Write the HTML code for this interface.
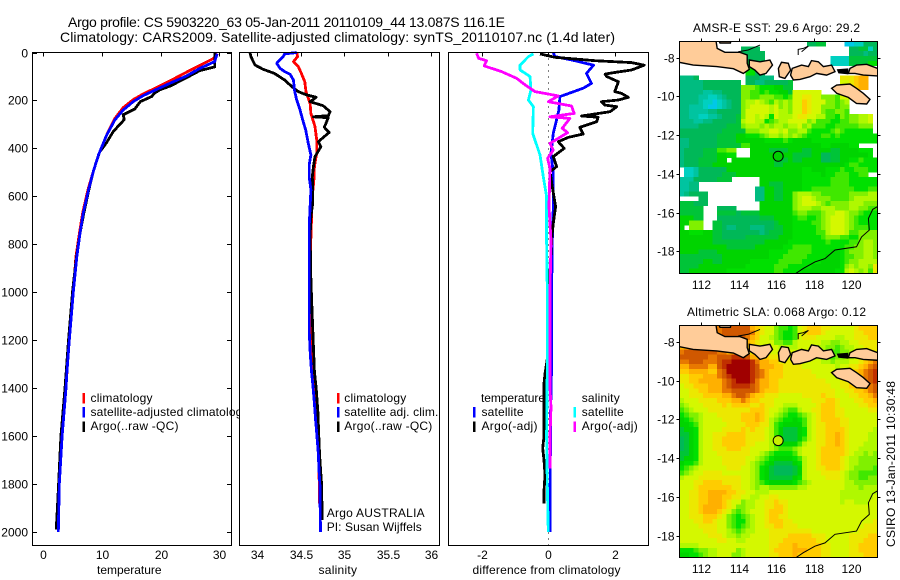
<!DOCTYPE html>
<html>
<head>
<meta charset="utf-8">
<title>Argo profile chart</title>
<style>
html,body{margin:0;padding:0;background:#fff;}
svg{display:block;font-family:"Liberation Sans",sans-serif;font-size:12px;fill:#000;}
</style>
</head>
<body>
<svg id="chart" xmlns="http://www.w3.org/2000/svg" width="900" height="580" viewBox="0 0 900 580">
<defs>
<clipPath id="clip-sst"><rect x="679.5" y="41.5" width="198" height="232"/></clipPath>
<clipPath id="clip-sla"><rect x="679.5" y="325.5" width="198" height="232"/></clipPath>
</defs>
<text x="68" y="27" font-size="14" textLength="437">Argo profile: CS 5903220_63 05-Jan-2011 20110109_44 13.087S 116.1E</text>
<text x="60" y="42" font-size="14" textLength="555">Climatology: CARS2009. Satellite-adjusted climatology: synTS_20110107.nc (1.4d later)</text>
<g id="layer-plots"></g>
<g id="layer-maps"></g>
<text x="693" y="32" textLength="167">AMSR-E SST: 29.6 Argo: 29.2</text>
<text x="687" y="316" textLength="179">Altimetric SLA: 0.068 Argo: 0.12</text>
<text transform="translate(895,547) rotate(-90)" textLength="166">CSIRO 13-Jan-2011 10:30:48</text>
</svg>
<script>
// ---------- profile data (depth in dbar) ----------
const tempTicks = [0, 10, 20, 30];
const salTicks = [34, 34.5, 35, 35.5, 36];
const salTickLabels = ["34", "34.5", "35", "35.5", "36"];
const diffTicks = [-2, 0, 2];
const depthTicks = [0, 200, 400, 600, 800, 1000, 1200, 1400, 1600, 1800, 2000];

const tempClimDepth = [5,25,53,82,118,146,173,197,230,275,344,427,498,573,670,754,852,990,1200,1400,1600,1800,1960];
const tempClimValue = [29.7,29,26.7,24.4,21.6,19.3,17,15.3,13.6,12.2,10.8,9.4,8.5,7.6,6.7,6.15,5.55,5.15,4.4,3.85,3.15,2.65,2.5];
const tempArgoDepth = [3,60,75,105,140,155,170,183,205,235,260,280,330,375,415,450,498,573,670,754,852,990,1200,1400,1600,1800,1900,1990];
const tempArgoValue = [29.2,29.2,26.7,24.4,21.6,19.9,18.9,18.5,16.5,15.6,13.6,13.8,11.9,10.8,9.6,9.1,8.5,7.75,6.9,6.25,5.65,5.0,4.3,3.7,3.0,2.6,2.4,2.2];
const tempSatDepth = [5,38,66,98,128,154,180,205,240,281,344,427,498,573,670,754,852,990,1200,1340,1400,1600,1800,2000];
const tempSatValue = [29.6,29.2,26.7,24.4,21.6,19.3,17,15.3,13.6,12.2,10.8,9.4,8.5,7.7,6.8,6.25,5.7,5.15,4.43,4.0,3.87,3.2,2.73,2.56];

const salClimDepth = [0,17,38,59,87,122,163,212,254,309,365,420,476,525,601,768,1000,1300,1500,1700,1880];
const salClimValue = [34.456,34.467,34.42,34.475,34.51,34.55,34.563,34.61,34.62,34.667,34.686,34.686,34.66,34.655,34.636,34.62,34.605,34.63,34.67,34.71,34.72];
const salArgoDepth = [0,17,52,70,87,115,142,163,177,187,205,222,247,263,268,272,312,333,372,393,434,476,518,573,629,685,768,950,1150,1330,1400,1500,1600,1680,1790,1950];
const salArgoValue = [33.92,33.93,33.977,34.07,34.2,34.32,34.4,34.475,34.57,34.68,34.61,34.76,34.84,34.82,34.65,34.82,34.774,34.83,34.705,34.735,34.667,34.648,34.636,34.64,34.64,34.62,34.61,34.62,34.64,34.66,34.68,34.7,34.71,34.72,34.74,34.75];
const salSatDepth = [0,6,17,45,66,80,91,115,156,198,233,281,323,379,427,469,518,573,643,726,950,1160,1260,1324,1394,1463,1533,1602,1672,1741,1811,1880,2000];
const salSatValue = [34.456,34.32,34.3,34.226,34.264,34.32,34.38,34.42,34.43,34.456,34.49,34.525,34.56,34.59,34.62,34.6,34.6,34.62,34.61,34.6,34.6,34.6,34.613,34.625,34.644,34.66,34.674,34.69,34.705,34.713,34.724,34.725,34.73];

const diffTempSatDepth = [0,17,31,53,87,129,149,184,240,337,420,504,643,782,1000,1300,1500,1730,1870,1960,2000];
const diffTempSatValue = [0.15,0.2,0.7,1.36,1.15,1.3,1.05,0.35,0.32,0.15,0.08,0.15,0.15,0.12,0.1,0.1,0.07,0.06,0.05,0.06,0.05];
const diffTempArgoDepth = [6,20,34,42,53,73,81,90,100,122,163,170,187,198,205,219,226,247,265,270,288,312,340,354,372,400,434,476,497,560,643,712,782,1000,1250,1340,1380,1500,1600,1650,1700,1760,1830,1880];
const diffTempArgoValue = [-0.25,0.2,1.41,2.51,2.89,2.51,2.11,1.71,1.76,2.11,2.0,2.2,2.41,2.11,1.6,1.7,2.06,1.86,1.0,1.5,1.46,0.95,1.05,0.6,0.3,0.48,0.15,0.25,0.05,0.12,0.22,0.15,0.1,0.02,0.0,-0.1,-0.13,-0.13,-0.13,-0.17,-0.13,-0.1,-0.13,-0.13];
const diffSalSatDepth = [6,17,52,73,100,156,198,226,337,427,518,601,782,1000,1300,1600,1800,2000];
const diffSalSatValue = [-0.45,-0.6,-0.85,-0.85,-0.55,-0.52,-0.6,-0.45,-0.47,-0.25,-0.15,-0.05,-0.05,-0.03,-0.03,-0.05,-0.03,0];
const diffSalArgoDepth = [3,24,34,56,80,108,135,163,181,205,223,254,268,275,316,334,379,407,441,483,643,782,1000,1200,1400,1480,1600,1735];
const diffSalArgoValue = [-2.16,-2.1,-1.86,-1.93,-1.4,-0.95,-0.7,-0.4,0.3,0,0.7,0.78,0.05,0.65,0.42,0.58,0.05,0.15,-0.02,0.05,0.02,0.08,0.05,0.05,0.05,0.08,0.05,0.05];

// ---------- map data ----------
const levelColors = ["#00c8e8","#00d0c0","#00c4a0","#00bc80","#00b858","#00c438","#00d400","#00e000","#40e800","#80f000","#b0f800","#d4f800","#ece800","#ffcc00","#ffb000","#e87800","#d05800","#c03000","#a00000"];
const levelKeys = "0123456789abcdefghi";
const sstRows = [
".......... .......... ....... 4455 .... 0011 444",
".......... ... 4444 .......... ......... 445514",
".......... ... 44444 .......... ........ 444344",
".......... ... 44444 .......... .... 1111 555555",
".......... ... 5544 .......... ..... 1111 555577",
".......... .... 7777 .......... .......... ....",
".......... .... 7744 .......... .......... ....",
"3334 .......... 444333 .......... .... cccdee ..",
"3333344444444 . 443344 4445 .......... bbcdee ..",
"3333344444444 999 87776655 .......... bccdee ..",
"3333322334444 998 87877665 bbbbbb .......... ..",
"3333221123444 998 89998878 bbccbb9998 bb......",
"3333211012344 9aab a98a9a9 bbdcbbb998 9a......",
"3322210012344 9abb bbab9a9 bbdcbb9998 99......",
"3322223344444 9bbb bbabaa9 bbdcbb9889 98......",
"3322112234445 9bba ba7baaa bccbbaa887 9899aab.",
"3332233444445 abba a789aab bbb9a88877 8899aab.",
"3333444444555 9aaa 9a9aa9a ab9a888778 8888999.",
"4444444445555 5999 aabbab9 9aa8777789 8777777.",
"4444444455556 6777 89aa9a9 a987778878 77777777",
"3344444455556 6666 6777787 6666777777 77777777",
"3344444455555 8866 6666666 6666667766 6677....",
"344445558899 ... 66 6655556 6655666655 6666777.",
"344445556677 ... 66 6666666 5555664455 6666667.",
"3444555566 . 6666 66 6665556 5566664455 66778777",
"3444555666 6666666 6665566 6666666666 67887777",
".11 2444444 6666666 6666666 6677666777 87788877",
".11 2444445 5566666 6666666 6677776778 887788..",
"22244444555 ...... 6666666 6677777788 88777777",
"2233 ............. 6655566 6677777788 88777777",
"2233 ............ 33 665566 6677888888 88877788",
"234444 .......... 33 665566 9aaa998888 889999aa",
"....44 .......... 33 665566 9abba99988 889aaaaa",
"555444 ........... 6666666 9abbba9899 99aaa999",
"55555 ... 4444 ..... 6666666 9aaa99aaa9 99aa9988",
"55555 ... 55554 5555 6666666 8998889aab ba998777",
"66655 ... 44444 4444 5556666 7887789abb ba987777",
"66 999 .. 5544444444 4445666 7777889abb ba987777",
"6.999 .. 5543344433 3445566 7777789abb ba988877",
"66777 66 5544444444 3455566 7777788abb ba889999",
"6666666 5544444555 5555666 7777778999 88779999",
"6666666 5555555555 5666667 7777777877 77889aa9",
"6666666 6665555556 6666677 8888777777 78899aa9",
"6666555 5666666666 6677778 8888777766 78999aa9",
"5555555 5566666666 6677788 8887777666 78899aa9",
"5555566 5566666677 7777888 8877776666 7899aaaa",
"5555666 6666666777 7778887 7777666666 79a9aa9c",
"5566666 6667777777 7778877 7766666667 7aba9a8c"
];
const slaRows = [
"ddddddd dfgggggged cbb9887 8bcdddccbb bbbcdddd",
"ddddddd dfggggggfd cbb9877 8bcdddcbbb bbbccddd",
"ddddddd dfgggggfed bba9877 8bcccbbbba abbcccdd",
"ddddddd ddeeeeeedc bbb9988 abbbbbaa99 aabbcccc",
"eeeeeee eeeeeeddcc cbbbaaa abbbbaa998 9aabbccc",
"fgggggg gffeeeddcc ccbbbbb bbbbaa9988 99aabbcc",
"ggggggf fggghhhgee ddccccb bbbbaa9989 9aabbcdd",
"ffgggff fghhiiiihf eeddccc cbbbbbaa9a aabbcdef",
"eeffffe eghiiiiihg eeeddcc ccbbbbbbba bbccdefg",
"ddeeeed dfgiiiiihg fedddcc ccccbbbbbb bccdefgh",
"ccdddee efghiiiihg fedddcc cccccbbbbb ccddefgh",
"ccddeee eefghiiihf eeddccc cccccccbbb ccdeefgh",
"bccddde eefghhhhgf eeddccc ccccccccbb ccddeffg",
"bbccdde eeffgggggf edddccc cccccccccb bccddefg",
"bbcccdd ddeefggfed dcccbbb bbccccdccb bbccddef",
"abbbccc cdddeefedd cccbbbb bbbbcccddc bbbccdde",
"9abbbcc ccdcddddcc dccbbaa abbbbcdddc bbbbccdd",
"89abbbc ccccccccdd dcbba98 8abbccdddc cbbbbbcc",
"7899abb bcccccddde dcba987 789abcdddc cbbbbbbb",
"6789abb bbccccddde dca9877 678abcdddd ccbbbbbb",
"6678abb bbbccccddd cca8766 668abccddd ccbbbbbb",
"5667abb bbccccdcdc cba8655 567abccddd dcbbbbba",
"5567abb cccddddccc cba8655 567abccdde dcbbbbaa",
"4567abb ccdddddccc cba8655 568abccdde dcbbbbaa",
"4567abb ccdddddccb bba8766 68abbccdde dcbbbaaa",
"4567abb cccdddccbb bba9888 9abbbcdddd dcbbaaaa",
"5567abb bcccccccbb a987777 8abbbcdddd dcbaa9a9",
"5667abb bbcccccbba 9876666 78abbcdddd cbaa9999",
"6778abb bbcccccba9 8765555 67abbcdddd cbaa9999",
"789abbb bbbcccbba9 7654444 56abbccddd cba99998",
"89abbcc ccbbbbbba9 7654444 56abbbcccc ba998888",
"abbbccc ccccccbba9 7655555 67abbbbccc ba998899",
"bbbccdd ddccccbba9 8766666 789abbbbbb baa99999",
"bbbcddd ddddccbba9 aa99999 9aabbbbbbb baaa9aaa",
"bbccdde eeeddccbba aabbbbb bbbbbbbbbb aaaaaaaa",
"bbccdde eeddccbbaa bbccbbb bbbbbbbbbb aaaaaaab",
"bbccdde eedcbb9aab bccdccb bbbbbbbbbb abbaaabb",
"bbccdee eedcb99aab bccddcb bbbbbbbbbb bbbbbbbb",
"bbccdee edcb989abb bcdddcb bbbbbbbbbb bbbbbbbb",
"bbcccdd dcb98789ab bcddccb bbbbbbbbbb bbbbbbbb",
"bbbccdd cbb98779ab bcdddcc bbbbbbbbbb bbbbbbbc",
"bbbbccc cbb98789ab bccddcc cbbbbbbbbb bbbbbccc",
"bbbbbcc cbba989aab bbccccc ccccbbbbbb bbbbcccc",
"bbbbbbc ccbaa9aabb bbccccd ddddcccbbb bbccccdd",
"bbbbbbb bccbbaabbb bbcccdd dddddccbbb bbcccddd",
"aaaabbb bbbbbbbbbb bbccddd edddddccbb bbccdddd",
"777899a abbbb9abbb bbcdddd eeedddccbb bbccdddd",
"667789a abbb99abbb bbccddd edddddccbb bbcccddd"
];
const lonTicks = [112, 114, 116, 118, 120];
const latTicks = [-8, -10, -12, -14, -16, -18];
const floatLon = [116.1];
const floatLat = [-13.09];
const landIslands = [
[[110.68,-6.8],[112.73,-6.8],[112.85,-7.52],[113.26,-7.72],[114.06,-7.72],[114.45,-7.86],[114.45,-8.29],[114.56,-8.6],[114.24,-8.81],[113.71,-8.57],[112.82,-8.46],[111.57,-8.38],[110.68,-8.21]],
[[112.8,-6.8],[113.65,-6.8],[113.55,-7.24],[113.0,-7.24]],
[[114.56,-8.12],[115.13,-8.21],[115.66,-8.12],[115.8,-8.38],[115.45,-8.81],[115.13,-8.9],[114.86,-8.64],[114.56,-8.46]],
[[116.11,-8.55],[116.28,-8.24],[116.64,-8.29],[116.76,-8.64],[116.46,-9.07],[116.16,-8.98]],
[[116.76,-8.9],[116.85,-8.55],[117.35,-8.38],[117.71,-8.46],[117.88,-8.15],[118.24,-8.21],[118.51,-8.46],[118.95,-8.38],[119.13,-8.72],[118.68,-8.9],[118.15,-8.81],[117.8,-8.98],[117.26,-9.12],[116.91,-9.15]],
[[119.84,-8.81],[119.93,-8.55],[120.28,-8.38],[120.82,-8.34],[121.53,-8.6],[121.53,-8.95],[120.64,-8.9],[120.2,-8.81]],
[[118.95,-9.58],[119.22,-9.41],[119.93,-9.36],[120.28,-9.58],[120.64,-9.84],[121.0,-10.15],[120.82,-10.39],[120.28,-10.36],[119.84,-10.05],[119.22,-9.84]]
];
const reefCluster = [[119.22,-8.6],[119.84,-8.55],[119.84,-8.86],[119.31,-8.81]];
const coastLines = [
[[117.17,-7.86],[117.17,-7.57],[117.44,-7.52],[117.71,-7.4],[117.35,-7.69]],
[[113.97,-7.69],[114.5,-7.6],[115.13,-7.35]],
[[121.53,-15.61],[121.14,-15.83],[120.91,-16.3],[120.96,-16.9],[120.55,-17.25],[120.28,-17.76],[119.13,-17.93],[118.6,-18.37],[118.06,-18.54],[117.44,-18.88],[116.9,-19.23]]
];

// ---------- helpers ----------
const NS = "http://www.w3.org/2000/svg";
const plots = document.getElementById("layer-plots");
const maps = document.getElementById("layer-maps");
const PLOT_TOP = 52.5, PLOT_BOTTOM = 545.5;
function depthY(d){ return 52.5 + d * 0.2398; }
function tempX(v){ return 43.3 + v * 5.87; }
function salX(v){ return 257 + (v - 34) * 87; }
function diffX(v){ return 548.3 + v * 33.2; }
function lonX(v){ return 701.3 + (v - 112) * 18.75; }
function latY(v, base){ return base + (-8 - v) * 19.37; }
function make(tag, parent, attrs){
  const el = document.createElementNS(NS, tag);
  for (const k in attrs) el.setAttribute(k, attrs[k]);
  parent.appendChild(el);
  return el;
}
function tick(parent, x1, y1, x2, y2){
  const el = make("line", parent, {x1:x1, y1:y1, x2:x2, y2:y2, stroke:"#000", "stroke-width":1, "shape-rendering":"crispEdges"});
  
  
}
function label(parent, x, y, text, anchor, len){
  const el = make("text", parent, {x:x, y:y, "text-anchor":anchor || "start"});
  if (len) el.setAttribute("textLength", len);
  el.textContent = text;
  
  
  return el;
}
function series(parent, depths, values, xf, color, name){
  const pts = depths.map((d, i) => xf(values[i]).toFixed(1) + "," + depthY(d).toFixed(1)).join(" ");
  const el = make("polyline", parent, {points:pts, fill:"none", stroke:color, "stroke-width":2.8, "stroke-linejoin":"round", "shape-rendering":"crispEdges"});
  
  
}
function panelBox(parent, x1, x2, name){
  const bg = make("rect", parent, {x:x1, y:PLOT_TOP, width:x2-x1, height:PLOT_BOTTOM-PLOT_TOP, fill:"#fff"});
  
  
}
function panelFrame(parent, x1, x2, name){
  const fr = make("rect", parent, {x:x1, y:PLOT_TOP, width:x2-x1, height:PLOT_BOTTOM-PLOT_TOP, fill:"none", stroke:"#000", "stroke-width":1, "shape-rendering":"crispEdges"});
  
  
}
function legendBar(parent, x, y, color){
  const el = make("rect", parent, {x:x, y:y, width:2.5, height:10.5, fill:color, "shape-rendering":"crispEdges"});
  
  
}

// ---------- panel 1: temperature ----------
const p1 = make("g", plots, {});


panelBox(p1, 32.5, 231.5, 'temperature-panel');
tempTicks.forEach(t => {
  const x = Math.round(tempX(t)) + 0.5;
  tick(p1, x, PLOT_TOP, x, PLOT_TOP + 4);
  label(p1, x, 559, String(t), "middle");
});
depthTicks.forEach(d => {
  const y = Math.round(depthY(d)) + 0.5;
  tick(p1, 32.5, y, 37, y);
  tick(p1, 227, y, 231.5, y);
  label(p1, 28, y + 4, String(d), "end");
});
series(p1, tempClimDepth, tempClimValue, tempX, "#ff0000", "temperature-climatology-line");
series(p1, tempArgoDepth, tempArgoValue, tempX, "#000000", "temperature-argo-line");
series(p1, tempSatDepth, tempSatValue, tempX, "#0000ff", "temperature-satellite-line");
legendBar(p1, 82.5, 393, "#ff0000");
legendBar(p1, 82.5, 407, "#0000ff");
legendBar(p1, 82.5, 421.5, "#000000");
label(p1, 90.5, 402, "climatology", "start", 62);
label(p1, 90.5, 416, "satellite-adjusted climatology", "start", 158);
label(p1, 90.5, 430, "Argo(..raw -QC)", "start", 88);
label(p1, 97, 574, "temperature", "start", 64.5);

// ---------- panel 2: salinity ----------
const p2 = make("g", plots, {});


panelBox(p2, 239.5, 439.5, 'salinity-panel');
salTicks.forEach((t, i) => {
  const x = Math.round(salX(t)) + 0.5;
  tick(p2, x, PLOT_TOP, x, PLOT_TOP + 4);
  label(p2, x, 559, salTickLabels[i], "middle");
});
series(p2, salClimDepth, salClimValue, salX, "#ff0000", "salinity-climatology-line");
series(p2, salArgoDepth, salArgoValue, salX, "#000000", "salinity-argo-line");
series(p2, salSatDepth, salSatValue, salX, "#0000ff", "salinity-satellite-line");
legendBar(p2, 337, 393, "#ff0000");
legendBar(p2, 337, 407, "#0000ff");
legendBar(p2, 337, 421.5, "#000000");
label(p2, 344.3, 402, "climatology", "start", 62);
label(p2, 344.3, 416, "satellite adj. clim.", "start", 94);
label(p2, 344.3, 430, "Argo(..raw -QC)", "start", 88);
label(p2, 326.7, 517, "Argo AUSTRALIA", "start", 98);
label(p2, 326.7, 531, "PI: Susan Wijffels", "start", 95);
label(p2, 318.5, 574, "salinity", "start", 38.5);

// ---------- panel 3: difference ----------
const p3 = make("g", plots, {});


panelBox(p3, 448.5, 648.5, 'difference-panel');
diffTicks.forEach(t => {
  const x = Math.round(diffX(t)) + 0.5;
  tick(p3, x, PLOT_TOP, x, PLOT_TOP + 4);
  label(p3, x, 559, String(t), "middle");
});
const zeroLine = make("line", p3, {x1:diffX(0), y1:PLOT_TOP, x2:diffX(0), y2:PLOT_BOTTOM, stroke:"#000", "stroke-width":1, "stroke-dasharray":"1 5", "shape-rendering":"crispEdges"});


series(p3, diffTempSatDepth, diffTempSatValue, diffX, "#0000ff", "difference-temperature-satellite-line");
series(p3, diffTempArgoDepth, diffTempArgoValue, diffX, "#000000", "difference-temperature-argo-line");
series(p3, diffSalSatDepth, diffSalSatValue, diffX, "#00ffff", "difference-salinity-satellite-line");
series(p3, diffSalArgoDepth, diffSalArgoValue, diffX, "#ff00ff", "difference-salinity-argo-line");
label(p3, 481, 402, "temperature", "start", 64);
legendBar(p3, 473, 407, "#0000ff");
legendBar(p3, 473, 421.5, "#000000");
label(p3, 481.5, 416, "satellite", "start", 42);
label(p3, 481.5, 430, "Argo(-adj)", "start", 56);
label(p3, 581.7, 402, "salinity", "start", 38);
legendBar(p3, 573.5, 407, "#00ffff");
legendBar(p3, 573.5, 421.5, "#ff00ff");
label(p3, 581.7, 416, "satellite", "start", 42);
label(p3, 581.7, 430, "Argo(-adj)", "start", 56);
label(p3, 472.5, 574, "difference from climatology", "start", 148);

panelFrame(p1, 32.5, 231.5, 'temperature-panel');
panelFrame(p2, 239.5, 439.5, 'salinity-panel');
panelFrame(p3, 448.5, 648.5, 'difference-panel');

// ---------- maps ----------
function drawMap(rows, top, base, clipId, name, markerColor, tickBaseline){
  const g = make("g", maps, {});
  
  
  const field = make("g", g, {"clip-path":"url(#" + clipId + ")", "shape-rendering":"crispEdges"});
  
  
  const cellW = 198 / 42, cellH = 232 / 48;
  rows.forEach((row, r) => {
    const chars = row.replace(/ /g, "");
    for (let c = 0; c < 42; c++) {
      const ch = chars[c] || ".";
      const idx = levelKeys.indexOf(ch);
      if (idx < 0) continue;
      const cell = make("rect", field, {x:(679.5 + c * cellW).toFixed(2), y:(top + r * cellH).toFixed(2), width:(cellW + 0.4).toFixed(2), height:(cellH + 0.4).toFixed(2), fill:levelColors[idx]});
      
      
    }
  });
  const land = make("g", g, {"clip-path":"url(#" + clipId + ")"});
  
  
  landIslands.forEach(poly => {
    const pts = poly.map(p => lonX(p[0]).toFixed(1) + "," + latY(p[1], base).toFixed(1)).join(" ");
    const el = make("polygon", land, {points:pts, fill:"#ffcc99", stroke:"#000", "stroke-width":1.4});
    
    
  });
  const reefPts = reefCluster.map(p => lonX(p[0]).toFixed(1) + "," + latY(p[1], base).toFixed(1)).join(" ");
  const reef = make("polygon", land, {points:reefPts, fill:"#000"});
  
  
  coastLines.forEach(line => {
    const pts = line.map(p => lonX(p[0]).toFixed(1) + "," + latY(p[1], base).toFixed(1)).join(" ");
    const el = make("polyline", land, {points:pts, fill:"none", stroke:"#000", "stroke-width":1});
    
    
  });
  const marker = make("circle", g, {cx:lonX(floatLon[0]), cy:latY(floatLat[0], base), r:5, fill:markerColor, stroke:"#000", "stroke-width":1});
  
  
  const frame = make("rect", g, {x:679.5, y:top, width:198, height:232, fill:"none", stroke:"#000", "stroke-width":1, "shape-rendering":"crispEdges"});
  
  
  lonTicks.forEach(t => {
    const x = Math.round(lonX(t)) + 0.5;
    tick(g, x, top - 3, x, top);
    label(g, x, tickBaseline, String(t), "middle");
  });
  latTicks.forEach(t => {
    const y = Math.round(latY(t, base)) + 0.5;
    tick(g, 676.5, y, 679.5, y);
    tick(g, 877.5, y, 880.5, y);
    label(g, 674.5, y + 4, String(t), "end");
  });
}
drawMap(sstRows, 41.5, 57.7, "clip-sst", "sst-map", "#00d000", 289);
drawMap(slaRows, 325.5, 342, "clip-sla", "sla-map", "#c8f000", 573);
</script>
</body>
</html>
